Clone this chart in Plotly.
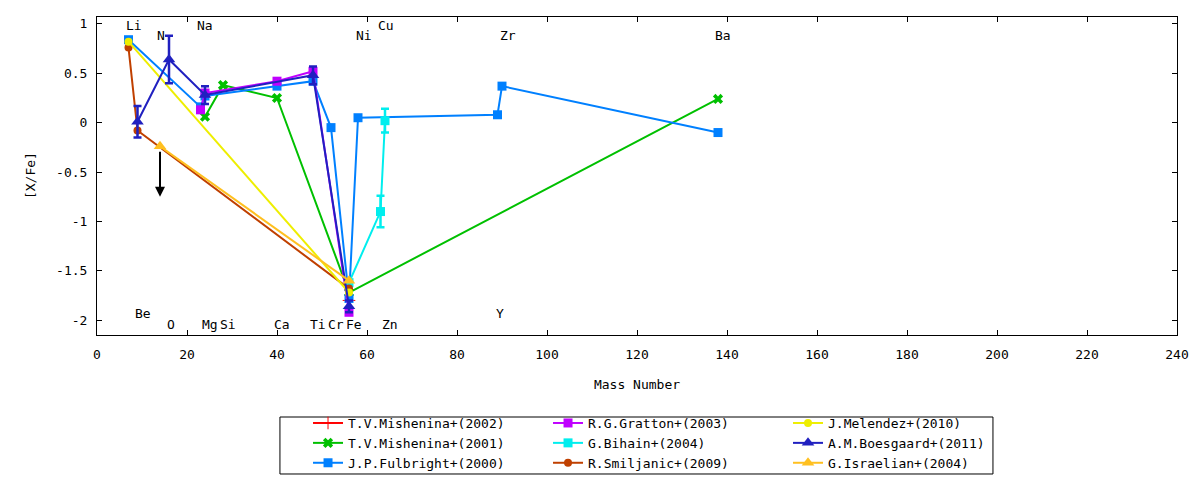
import plotly.graph_objects as go

# series values: x = mass number, y = [X/Fe]
mishenina2002X = [56]
mishenina2002Y = [-1.8]

mishenina2001X = [24, 28, 40, 56, 138]
mishenina2001Y = [0.06, 0.38, 0.25, -1.72, 0.24]

fulbrightX = [7, 23, 24, 40, 48, 52, 56, 58, 89, 90, 138]
fulbrightY = [0.84, 0.16, 0.27, 0.37, 0.42, -0.05, -1.78, 0.05, 0.08, 0.37, -0.1]

grattonX = [23, 24, 40, 48, 56]
grattonY = [0.13, 0.3, 0.42, 0.52, -1.92]

bihainX = [56, 63, 64]
bihainY = [-1.62, -0.9, 0.02]
bihainErr = [0.0, 0.16, 0.12]

smiljanicX = [7, 9, 56]
smiljanicY = [0.76, -0.08, -1.68]

melendezX = [7, 56]
melendezY = [0.82, -1.72]

boesgaardX = [9, 16, 24, 48, 56]
boesgaardY = [0.01, 0.64, 0.28, 0.48, -1.86]
boesgaardErr = [0.16, 0.24, 0.09, 0.09, 0.06]

israelianX = [14, 56]
israelianY = [-0.24, -1.6]
israelianLimit = -0.75  # upper limit drawn as arrow from the N point

# element names written in the plot
elementNames = ["Li", "N", "Na", "Ni", "Cu", "Zr", "Ba",
                "Be", "O", "Mg", "Si", "Ca", "Ti", "Cr", "Fe", "Zn", "Y"]
elementX = [6.2, 13.1, 22.0, 57.3, 62.2, 89.3, 137.1,
            8.2, 15.3, 23.1, 27.1, 39.1, 47.1, 51.1, 55.1, 63.1, 88.4]
elementY = [0.98, 0.88, 0.98, 0.88, 0.98, 0.88, 0.88,
            -1.93, -2.04, -2.04, -2.04, -2.04, -2.04, -2.04, -2.04, -2.04, -1.93]

yTickValues = [-2, -1.5, -1, -0.5, 0, 0.5, 1]
yTickText = ["-2", "-1.5", "-1", "-0.5", "0", "0.5", "1"]

FONT = "DejaVu Sans Mono"
textFont = {"family": FONT, "size": 13, "color": "black"}


def get_series(name, x, y, color, symbol, legend, size=9, error=None):
    trace = {"type": "scatter", "mode": "lines+markers", "x": x, "y": y, "name": name,
             "line": {"color": color, "width": 2},
             "marker": {"color": color, "symbol": symbol, "size": size, "line": {"width": 0}},
             "legend": legend}
    if error is not None:
        trace["error_y"] = {"type": "data", "array": error, "color": color, "thickness": 2.5, "width": 4}
    return trace


traces = [
    get_series("T.V.Mishenina+(2002)", mishenina2002X, mishenina2002Y, "#ff0000", "cross-thin-open", "legend"),
    get_series("T.V.Mishenina+(2001)", mishenina2001X, mishenina2001Y, "#00c000", "x", "legend"),
    get_series("J.P.Fulbright+(2000)", fulbrightX, fulbrightY, "#0080ff", "square", "legend"),
    get_series("R.G.Gratton+(2003)", grattonX, grattonY, "#c000ff", "square", "legend2"),
    get_series("G.Bihain+(2004)", bihainX, bihainY, "#00eeee", "square", "legend2", error=bihainErr),
    get_series("R.Smiljanic+(2009)", smiljanicX, smiljanicY, "#c04000", "circle", "legend2", size=8),
    get_series("J.Melendez+(2010)", melendezX, melendezY, "#eeee00", "circle", "legend3", size=8),
    get_series("A.M.Boesgaard+(2011)", boesgaardX, boesgaardY, "#2020c0", "triangle-up", "legend3",
               size=11, error=boesgaardErr),
    get_series("G.Israelian+(2004)", israelianX, israelianY, "#ffc020", "triangle-up", "legend3", size=11),
]

annotations = [{"x": ex, "y": ey, "xref": "x", "yref": "y", "text": name, "showarrow": False,
                "xanchor": "left", "yanchor": "middle", "borderpad": 0, "font": textFont}
               for name, ex, ey in zip(elementNames, elementX, elementY)]

# upper limit arrow for Israelian N
annotations.append({"x": israelianX[0], "y": israelianLimit, "ax": israelianX[0], "ay": israelianY[0] - 0.04,
                    "xref": "x", "yref": "y", "axref": "x", "ayref": "y", "text": "", "showarrow": True,
                    "arrowhead": 2, "arrowsize": 1, "arrowwidth": 2, "arrowcolor": "black"})

# y axis title
annotations.append({"x": -0.062, "y": 0.5, "xref": "paper", "yref": "paper", "text": "[X/Fe]",
                    "textangle": -90, "showarrow": False, "xanchor": "center", "yanchor": "middle",
                    "font": textFont})

axisStyle = {"ticks": "inside", "ticklen": 5, "tickcolor": "black", "mirror": "allticks", "showline": True,
             "linecolor": "black", "linewidth": 1, "showgrid": False, "zeroline": False,
             "tickfont": textFont}


def get_legend(x):
    return {"orientation": "v", "xref": "container", "x": x, "xanchor": "left",
            "yref": "container", "y": 0.1525, "yanchor": "top", "borderwidth": 0,
            "bgcolor": "rgba(0,0,0,0)", "tracegroupgap": 0, "font": textFont}


# page body has an 8px margin, so the figure is shifted by 8px inside the window
layout = {
    "width": 1184, "height": 472,
    "paper_bgcolor": "white", "plot_bgcolor": "white",
    "font": textFont,
    "margin": {"l": 89, "r": 15, "t": 9, "b": 145, "autoexpand": False},
    "xaxis": dict(axisStyle, range=[0, 240], tick0=0, dtick=20, ticklabelstandoff=7,
                  title={"text": "Mass Number", "standoff": 19, "font": textFont}),
    "yaxis": dict(axisStyle, range=[-2.15, 1.07], tickvals=yTickValues, ticktext=yTickText,
                  ticklabelstandoff=6),
    "legend": get_legend(0.2534),
    "legend2": get_legend(0.4561),
    "legend3": get_legend(0.6588),
    "shapes": [{"type": "rect", "xref": "paper", "yref": "paper", "x0": 0.1694, "x1": 0.8296,
                "y0": -0.4371, "y1": -0.2579, "line": {"color": "black", "width": 1}}],
    "annotations": annotations,
    "showlegend": True,
}

fig = go.Figure(data=traces, layout=layout)
fig.write_html("out.html")
